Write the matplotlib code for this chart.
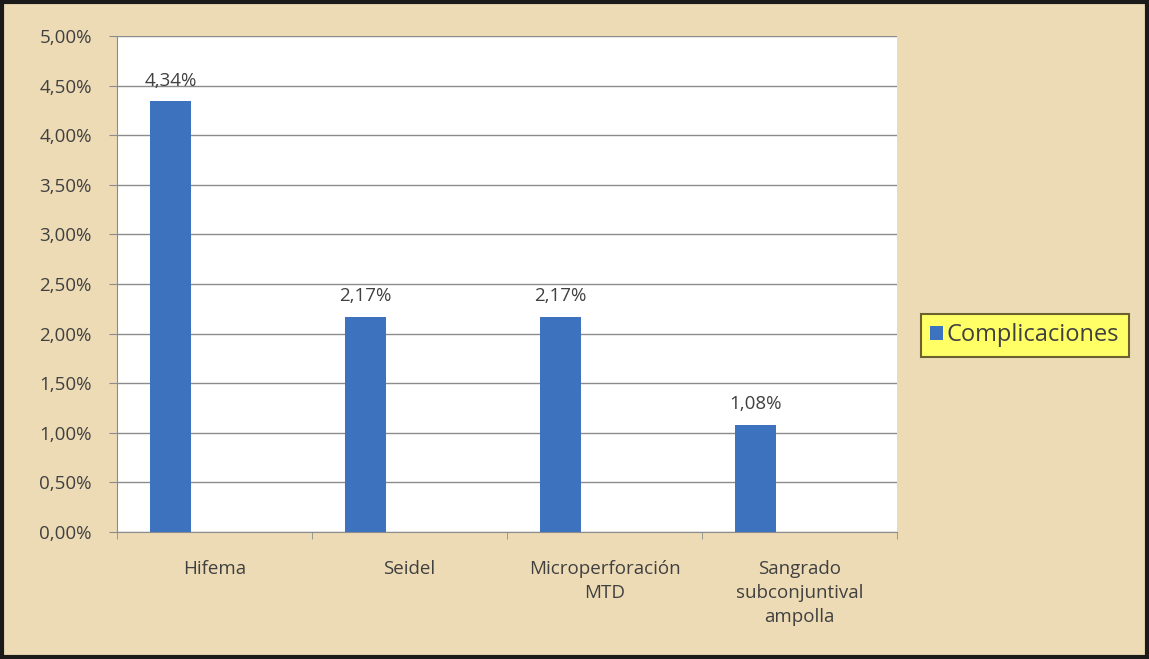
import numpy as np
import matplotlib.pyplot as plt
from matplotlib.ticker import FuncFormatter
from matplotlib.patches import Rectangle

categories = ['Hifema', 'Seidel', 'Microperforación\nMTD', 'Sangrado\nsubconjuntival\nampolla']
values = [4.34, 2.17, 2.17, 1.08]
series_name = 'Complicaciones'
y_ticks = [0, 0.5, 1.0, 1.5, 2.0, 2.5, 3.0, 3.5, 4.0, 4.5, 5.0]

bar_color = '#3D73BE'
text_color = '#404040'
plt.rcParams['font.family'] = ['Open Sans', 'DejaVu Sans']

fig = plt.figure(figsize=(11.49, 6.59), dpi=100)
fig.patch.set_facecolor('#EDDBB6')
fig.patches.append(Rectangle((0.002, 0.003), 0.996, 0.994, transform=fig.transFigure,
                             fill=False, edgecolor='#1a1a1a', linewidth=3))

ax = fig.add_axes([0.1018, 0.1927, 0.6789, 0.7527])
ax.set_facecolor('white')

x = np.arange(len(categories))
ax.bar(x - 0.226, values, width=0.21, color=bar_color, label=series_name, zorder=3)
for xi, v in zip(x, values):
    ax.text(xi - 0.226, v + 0.12, f"{v:.2f}%".replace('.', ','), ha='center', va='bottom',
            fontsize=13.5, color=text_color)

ax.set_xlim(-0.5, len(categories) - 0.5)
ax.set_ylim(0, 5)
ax.set_yticks(y_ticks)
ax.yaxis.set_major_formatter(FuncFormatter(lambda v, p: f"{v:.2f}%".replace('.', ',')))
ax.yaxis.grid(True, color='#8c8c8c', linewidth=1, zorder=0)
ax.set_xticks(x)
ax.set_xticklabels(categories, fontsize=13.5, color=text_color, linespacing=1.45)
ax.set_xticks(np.arange(-0.5, len(categories)), minor=True)
ax.tick_params(axis='x', which='major', length=0, pad=20)
ax.tick_params(axis='x', which='minor', length=5, color='#8c8c8c')
ax.tick_params(axis='y', length=6, color='#8c8c8c', labelsize=13.5, labelcolor=text_color, pad=12)
for s in ['top', 'right']:
    ax.spines[s].set_visible(False)
for s in ['left', 'bottom']:
    ax.spines[s].set_color('#8c8c8c')

leg = fig.legend(loc='center left', bbox_to_anchor=(0.8015, 0.491), fontsize=17,
                 handlelength=0.55, handleheight=0.55, handletextpad=0.15, borderpad=0.4,
                 borderaxespad=0, fancybox=False, framealpha=1)
leg.get_frame().set_facecolor('#FFFF66')
leg.get_frame().set_edgecolor('#6b6130')
leg.get_frame().set_linewidth(1.5)
for t in leg.get_texts():
    t.set_color(text_color)

fig.savefig('out.png', dpi=100, facecolor=fig.get_facecolor())
